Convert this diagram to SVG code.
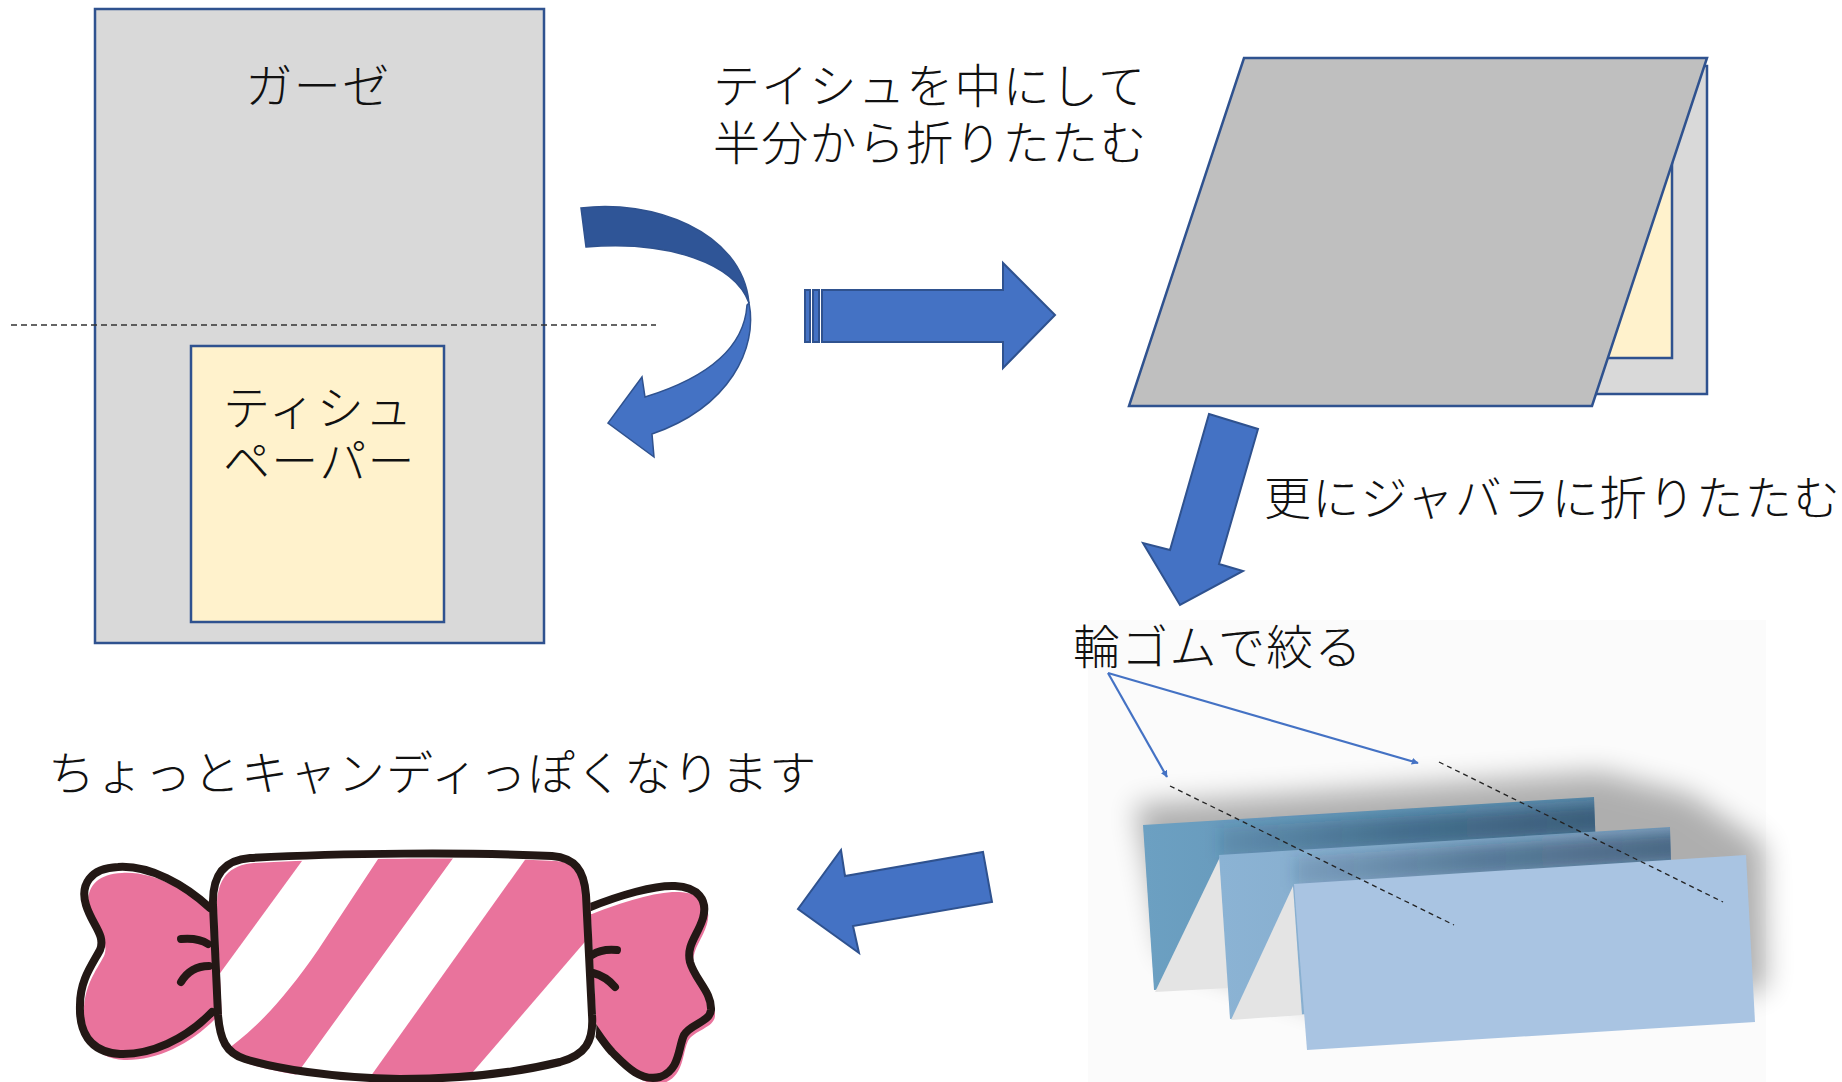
<svg xmlns="http://www.w3.org/2000/svg" width="1842" height="1082" viewBox="0 0 1842 1082">
<style>
  .t{font-family:"Noto Sans CJK JP","Noto Sans CJK SC",sans-serif;font-weight:300;font-size:47px;fill:#111;letter-spacing:1.3px}
  .sheet{stroke:#2F528F;stroke-width:2.5}
  .blk{fill:#4472C4;stroke:#2F528F;stroke-width:2;stroke-linejoin:miter}
  .fold{fill:none;stroke:#222;stroke-width:1.3;stroke-dasharray:5 4}
  .conn{fill:none;stroke:#4472C4;stroke-width:2.2}
  .ink{fill:none;stroke:#231815;stroke-width:8;stroke-linecap:round;stroke-linejoin:round}
  .pink{fill:#E9739C}
  .crease{fill:#E4E4E4}
</style>
<defs>
  <marker id="tri" viewBox="0 0 10 10" refX="9" refY="5" markerWidth="7" markerHeight="7" orient="auto" markerUnits="userSpaceOnUse">
    <path d="M0,0 L10,5 L0,10 Z" fill="#4472C4"/>
  </marker>
  <linearGradient id="p1" x1="0" y1="0" x2="1" y2="0">
    <stop offset="0" stop-color="#6CA0C2"/>
    <stop offset="1" stop-color="#5A88A8"/>
  </linearGradient>
  <linearGradient id="p2" x1="0" y1="0" x2="1" y2="0">
    <stop offset="0" stop-color="#8BB3D4"/>
    <stop offset="1" stop-color="#7C9FBE"/>
  </linearGradient>
  <linearGradient id="cast" x1="0" y1="0" x2="1" y2="0">
    <stop offset="0" stop-color="#1E3A55" stop-opacity="0.15"/>
    <stop offset="0.4" stop-color="#1E3A55" stop-opacity="0.4"/>
    <stop offset="1" stop-color="#1E3A55" stop-opacity="0.6"/>
  </linearGradient>
  <filter id="soft" x="-20%" y="-20%" width="140%" height="140%">
    <feGaussianBlur stdDeviation="14"/>
  </filter>
  <filter id="softer" x="-10%" y="-50%" width="120%" height="200%">
    <feGaussianBlur stdDeviation="7"/>
  </filter>
  <clipPath id="clipP1"><path d="M1143,825 L1594,797 L1600,960 L1154,990 Z"/></clipPath>
  <clipPath id="clipP2"><path d="M1219,855 L1670,827 L1675,990 L1230,1019 Z"/></clipPath>
  <clipPath id="bodyClip">
    <path d="M250,858 C340,853 470,852 552,856 C575,858 584,870 586,895 L592,1015 C594,1042 585,1055 560,1062 C515,1073 460,1079 400,1079 C330,1078 275,1068 245,1059 C226,1053 220,1040 218,1015 L213,905 C212,875 224,860 250,858 Z"/>
  </clipPath>
</defs>

<rect width="1842" height="1082" fill="#FFFFFF"/>

<!-- gauze sheet with tissue on its lower half -->
<g id="gauze">
  <rect x="95" y="9" width="449" height="634" fill="#D9D9D9" class="sheet"/>
  <text class="t" x="318" y="103" text-anchor="middle">ガーゼ</text>
</g>
<g id="fold-line">
  <line x1="11" y1="325" x2="656" y2="325" stroke="#333" stroke-width="1.3" stroke-dasharray="6 4"/>
</g>
<g id="tissue">
  <rect x="191" y="346" width="253" height="276" fill="#FFF2CC" class="sheet"/>
  <text class="t" x="223" y="425" font-size="46" letter-spacing="1">ティシュ</text>
  <text class="t" x="223" y="478" font-size="46" letter-spacing="1">ペーパー</text>
</g>

<!-- fold-over arrow -->
<g id="fold-arrow">
  <path d="M581,208 C650,199 742,230 749,303 C735,264 670,240 586,247 Z" fill="#2F5597" stroke="#2F528F" stroke-width="1.5"/>
  <path d="M749,303 C758,348 730,407 652,434 L654,457 L608,423 L642,377 L645,397 C700,380 744,352 747,305 Z" fill="#4472C4" stroke="#2F528F" stroke-width="1.5"/>
</g>

<g id="step1-label">
  <text class="t" x="713" y="103">テイシュを中にして</text>
  <text class="t" x="713" y="160">半分から折りたたむ</text>
</g>

<!-- striped arrow to the folded sheet -->
<g id="arrow-right">
  <rect x="805" y="290" width="5" height="52" class="blk"/>
  <rect x="813" y="290" width="6" height="52" class="blk"/>
  <path d="M822,290 L1003,290 L1003,263 L1055,315 L1003,368 L1003,342 L822,342 Z" class="blk"/>
</g>

<!-- folded sheet -->
<g id="folded">
  <rect x="1300" y="66" width="407" height="328" fill="#D9D9D9" class="sheet"/>
  <rect x="1300" y="100" width="372" height="258" fill="#FFF2CC" class="sheet"/>
  <path d="M1244,58 L1707,58 L1592,406 L1129,406 Z" fill="#BFBFBF" class="sheet"/>
</g>

<g id="arrow-down">
  <path d="M1209,414 L1258,429 L1219,564 L1243,571 L1180,605 L1143,543 L1170,550 Z" class="blk"/>
</g>

<g id="step2-label">
  <text class="t" x="1264" y="515">更にジャバラに折りたたむ</text>
</g>

<!-- accordion-folded sheet -->
<g id="accordion">
  <rect x="1088" y="620" width="678" height="462" fill="#FBFBFB"/>
  <path d="M1135,805 L1600,772 L1690,795 L1764,845 L1766,990 L1330,1010 L1165,955 Z" fill="#000" opacity="0.3" filter="url(#soft)"/>
  <path d="M1143,825 L1594,797 L1600,960 L1154,990 Z" fill="url(#p1)"/>
  <g clip-path="url(#clipP1)">
    <path d="M1219,858 L1670,830 L1670,800 L1219,828 Z" fill="url(#cast)" filter="url(#softer)"/>
  </g>
  <path d="M1155,992 L1220,857 L1229,988 Z" class="crease"/>
  <path d="M1219,855 L1670,827 L1675,990 L1230,1019 Z" fill="url(#p2)"/>
  <g clip-path="url(#clipP2)">
    <path d="M1294,887 L1746,858 L1746,828 L1294,857 Z" fill="url(#cast)" filter="url(#softer)"/>
  </g>
  <path d="M1231,1020 L1293,886 L1302,1015 Z" class="crease"/>
  <path d="M1294,884 L1746,855 L1755,1022 L1307,1050 Z" fill="#A9C4E2"/>
  <line x1="1170" y1="786" x2="1454" y2="925" class="fold"/>
  <line x1="1439" y1="762" x2="1723" y2="902" class="fold"/>
</g>

<g id="step3-label">
  <text class="t" x="1073" y="664">輪ゴムで絞る</text>
</g>

<g id="connectors">
  <line x1="1108" y1="673" x2="1167" y2="777" class="conn" marker-end="url(#tri)"/>
  <line x1="1108" y1="673" x2="1418" y2="763" class="conn" marker-end="url(#tri)"/>
</g>

<g id="arrow-left">
  <path d="M983,852 L992,902 L853,926 L859,953 L798,909 L841,850 L845,876 Z" class="blk"/>
</g>

<g id="result-label">
  <text class="t" x="48" y="790">ちょっとキャンディっぽくなります</text>
</g>

<!-- wrapped candy -->
<g id="candy">
  <g transform="translate(4,6)">
    <path class="pink" d="M210,908 C185,885 150,865 118,867 C90,868 80,885 86,905 C92,925 106,935 100,950 C92,965 80,980 80,1005 C79,1030 88,1052 120,1054 C150,1055 185,1040 212,1012 L235,1012 L235,908 Z"/>
    <path class="pink" d="M588,908 C620,895 655,885 675,886 C698,887 708,900 703,918 C698,935 686,945 690,962 C695,980 712,992 711,1010 C710,1022 690,1024 684,1035 C678,1048 680,1070 660,1077 C640,1082 625,1065 612,1052 C603,1042 597,1032 592,1025 L570,1025 L570,908 Z"/>
  </g>
  <path class="ink" d="M210,908 C185,885 150,865 118,867 C90,868 80,885 86,905 C92,925 106,935 100,950 C92,965 80,980 80,1005 C79,1030 88,1052 120,1054 C150,1055 185,1040 212,1012"/>
  <path class="ink" d="M588,908 C620,895 655,885 675,886 C698,887 708,900 703,918 C698,935 686,945 690,962 C695,980 712,992 711,1010 C710,1022 690,1024 684,1035 C678,1048 680,1070 660,1077 C640,1082 625,1065 612,1052 C603,1042 597,1032 592,1025"/>
  <g transform="translate(4,5)">
    <g clip-path="url(#bodyClip)">
      <rect x="200" y="840" width="410" height="250" fill="#FFFFFF"/>
      <path class="pink" d="M146,845 L306,845 L146,1064 Z"/>
      <path class="pink" d="M380,845 L455,845 L292,1070 L196,1070 L211,1053 C246,1030 276,1000 314,945 Z"/>
      <path class="pink" d="M528,845 L660,845 L462,1075 L364,1075 Z"/>
    </g>
  </g>
  <path class="ink" d="M250,858 C340,853 470,852 552,856 C575,858 584,870 586,895 L592,1015 C594,1042 585,1055 560,1062 C515,1073 460,1079 400,1079 C330,1078 275,1068 245,1059 C226,1053 220,1040 218,1015 L213,905 C212,875 224,860 250,858 Z"/>
  <path class="ink" stroke-width="7" d="M181,939 C192,938 202,940 208,944"/>
  <path class="ink" stroke-width="7" d="M181,982 C187,972 197,966 209,966"/>
  <path class="ink" stroke-width="7" d="M617,950 C607,949 598,951 592,955"/>
  <path class="ink" stroke-width="7" d="M615,987 C609,980 601,975 593,973"/>
</g>
</svg>
